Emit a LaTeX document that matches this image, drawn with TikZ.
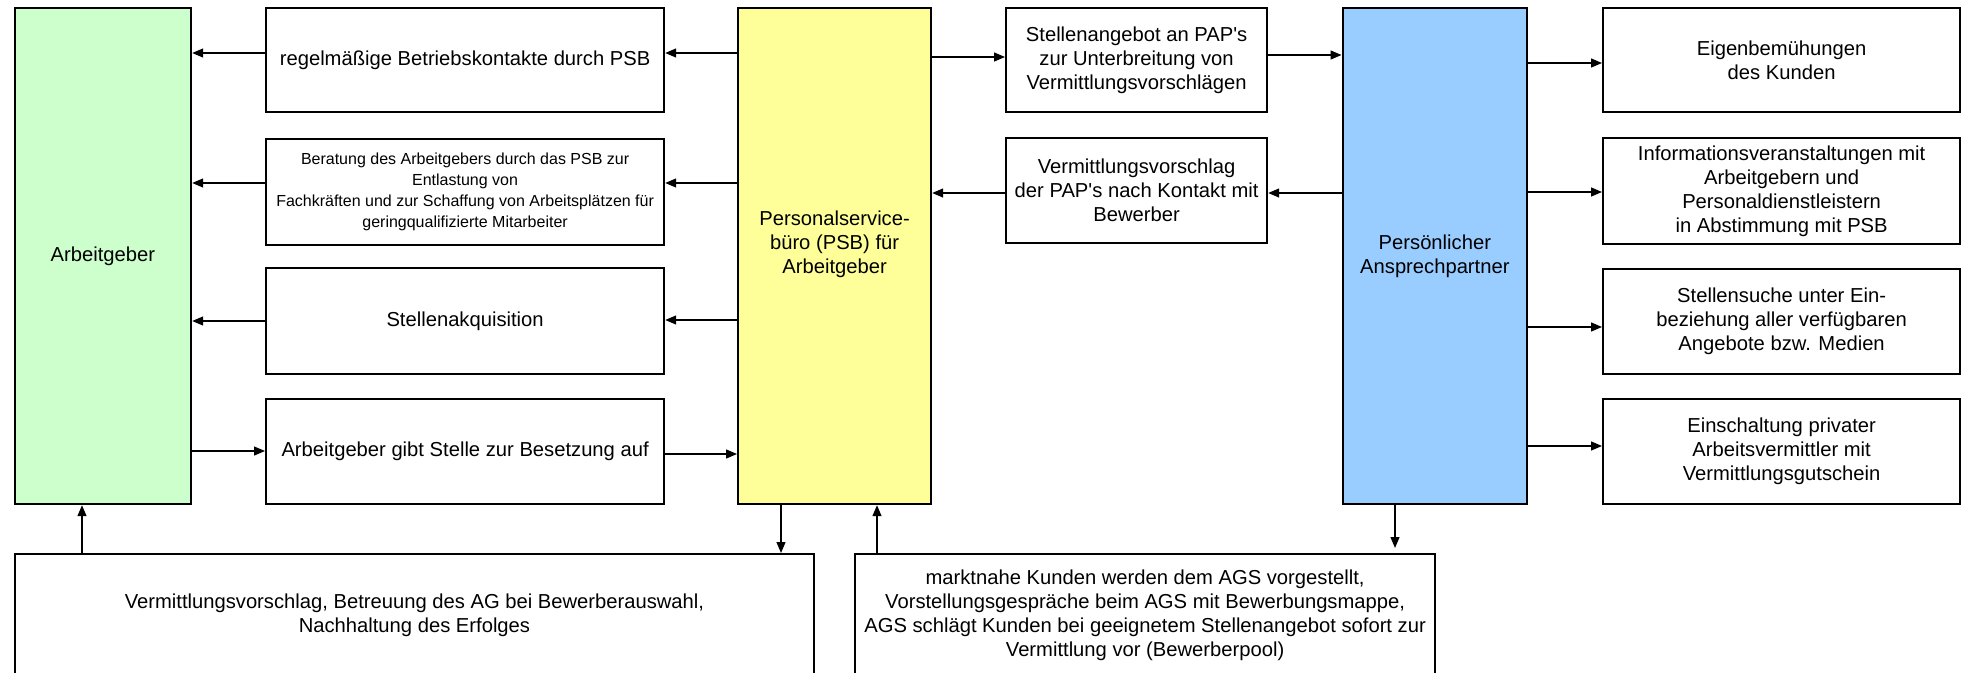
\documentclass[tikz,border=0pt]{standalone}
\usepackage{fontspec}
\setmainfont{Liberation Sans}[Ligatures=TeXOff]
\usetikzlibrary{arrows.meta}
\definecolor{agreen}{HTML}{CCFFCC}
\definecolor{ayellow}{HTML}{FFFF99}
\definecolor{ablue}{HTML}{99CCFF}
\tikzset{
  box/.style={draw=black, line width=2.2pt, fill=white, align=center, inner sep=2pt, anchor=north west, font=\fontsize{20.2}{24}\selectfont},
  smallbox/.style={box, font=\fontsize{16}{21}\selectfont},
  arr/.style={-{Triangle[length=11pt,width=9pt]}, line width=1.3pt},
  txt/.style={align=center, inner sep=0pt, font=\fontsize{20.2}{24}\selectfont},
}
\begin{document}
\begin{tikzpicture}[x=1pt,y=-1pt]
\useasboundingbox[fill=white] (0,0) rectangle (1964,672);
% main columns
\node[box, fill=agreen, minimum width=176.5pt, minimum height=496pt] (grn) at (13.5,7) {Arbeitgeber};
\node[box, fill=ayellow, minimum width=193pt, minimum height=496pt] (yel) at (737,7) {};
\node[txt] (yeltxt) at ([yshift=12pt]yel.center) {Personalservice-\\büro (PSB) für\\Arbeitgeber};
\node[box, fill=ablue, minimum width=184.5pt, minimum height=496pt] (blu) at (1341.5,7) {Persönlicher\\Ansprechpartner};
% left column
\node[box, minimum width=398pt, minimum height=104pt] (b1) at (265,7) {regelmäßige Betriebskontakte durch PSB};
\node[smallbox, minimum width=398pt, minimum height=106pt] (b2) at (265,138) {Beratung des Arbeitgebers durch das PSB zur\\Entlastung von\\Fachkräften und zur Schaffung von Arbeitsplätzen für\\geringqualifizierte Mitarbeiter};
\node[box, minimum width=398pt, minimum height=106pt] (b3) at (265,267) {Stellenakquisition};
\node[box, minimum width=398pt, minimum height=105pt] (b4) at (265,398) {Arbeitgeber gibt Stelle zur Besetzung auf};
% middle column
\node[box, minimum width=261pt, minimum height=104pt] (m1) at (1005,7) {Stellenangebot an PAP's\\zur Unterbreitung von\\Vermittlungsvorschlägen};
\node[box, minimum width=261pt, minimum height=105pt] (m2) at (1005,137) {Vermittlungsvorschlag\\der PAP's nach Kontakt mit\\Bewerber};
% right column
\node[box, minimum width=357pt, minimum height=104pt] (r1) at (1602,7) {Eigenbemühungen\\des Kunden};
\node[box, minimum width=357pt, minimum height=106pt] (r2) at (1602,137) {Informationsveranstaltungen mit\\Arbeitgebern und\\Personaldienstleistern\\in Abstimmung mit PSB};
\node[box, minimum width=357pt, minimum height=105pt] (r3) at (1602,268) {Stellensuche unter Ein-\\beziehung aller verfügbaren\\Angebote bzw. Medien};
\node[box, minimum width=357pt, minimum height=105pt] (r4) at (1602,398) {Einschaltung privater\\Arbeitsvermittler mit\\Vermittlungsgutschein};
% bottom
\node[box, minimum width=798.7pt, minimum height=123pt] (bl) at (14,553) {Vermittlungsvorschlag, Betreuung des AG bei Bewerberauswahl,\\Nachhaltung des Erfolges};
\node[box, minimum width=580pt, minimum height=123pt] (br) at (854,553) {marktnahe Kunden werden dem AGS vorgestellt,\\Vorstellungsgespräche beim AGS mit Bewerbungsmappe,\\AGS schlägt Kunden bei geeignetem Stellenangebot sofort zur\\Vermittlung vor (Bewerberpool)};
% connectors left
\draw[arr] (b1.west |- 0,53) -- (grn.east |- 0,53);
\draw[arr] (yel.west |- 0,53) -- (b1.east |- 0,53);
\draw[arr] (b2.west |- 0,183) -- (grn.east |- 0,183);
\draw[arr] (yel.west |- 0,183) -- (b2.east |- 0,183);
\draw[arr] (b3.west |- 0,321) -- (grn.east |- 0,321);
\draw[arr] (yel.west |- 0,320) -- (b3.east |- 0,320);
\draw[arr] (grn.east |- 0,451) -- (b4.west |- 0,451);
\draw[arr] (b4.east |- 0,454) -- (yel.west |- 0,454);
% connectors middle
\draw[arr] (yel.east |- 0,57) -- (m1.west |- 0,57);
\draw[arr] (m1.east |- 0,55) -- (blu.west |- 0,55);
\draw[arr] (blu.west |- 0,193) -- (m2.east |- 0,193);
\draw[arr] (m2.west |- 0,193) -- (yel.east |- 0,193);
% connectors right
\draw[arr] (blu.east |- 0,63) -- (r1.west |- 0,63);
\draw[arr] (blu.east |- 0,192) -- (r2.west |- 0,192);
\draw[arr] (blu.east |- 0,327) -- (r3.west |- 0,327);
\draw[arr] (blu.east |- 0,446) -- (r4.west |- 0,446);
% vertical connectors
\draw[arr] (bl.north -| 82,0) -- (grn.south -| 82,0);
\draw[arr] (yel.south -| 781,0) -- (bl.north -| 781,0);
\draw[arr] (br.north -| 877,0) -- (yel.south -| 877,0);
\draw[arr] (blu.south -| 1395,0) -- ([yshift=5pt]br.north -| 1395,0);
\end{tikzpicture}
\end{document}
